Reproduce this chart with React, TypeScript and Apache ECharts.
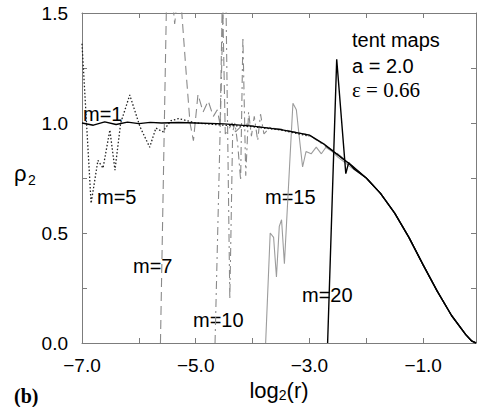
import React, { useEffect, useRef } from "react";
import * as echarts from "echarts";

// ---- data ----
const m1X = [-7.0, -6.8, -6.6, -6.4, -6.2, -6.0, -5.8, -5.6, -5.3, -5.0, -4.5, -4.0, -3.5, -3.0, -2.75, -2.5, -2.25, -2.0, -1.75, -1.5, -1.25, -1.0, -0.75, -0.5, -0.25, -0.15, -0.07];
const m1Y = [1.0, 0.99, 1.005, 0.993, 1.004, 0.997, 1.003, 1.0, 1.002, 1.0, 0.996, 0.986, 0.97, 0.945, 0.905, 0.855, 0.805, 0.75, 0.68, 0.59, 0.48, 0.355, 0.235, 0.125, 0.038, 0.01, 0.0];

const m5X = [-7.0, -6.84, -6.72, -6.63, -6.51, -6.42, -6.32, -6.16, -5.98, -5.81, -5.70, -5.58, -5.44, -5.3, -5.0, -4.5, -4.0, -3.5, -3.0];
const m5Y = [1.36, 0.635, 0.83, 0.795, 0.968, 0.786, 1.0, 1.127, 0.983, 0.89, 0.977, 0.96, 1.01, 1.02, 1.0, 0.99, 0.983, 0.968, 0.94];

const m7X = [-5.62, -5.50, -5.42, -5.37, -5.31, -5.25, -5.16, -5.10, -5.04, -4.96, -4.87, -4.78, -4.69, -4.62, -4.57, -4.53, -4.48, -4.42, -4.36, -4.30, -4.22, -4.10, -4.0, -3.5, -3.0, -2.5, -2.0, -1.75, -1.5, -1.25, -1.0, -0.75, -0.5, -0.25, -0.15, -0.07];
const m7Y = [0.0, 1.75, 1.6, 1.45, 1.6, 1.52, 1.2, 1.0, 0.92, 1.13, 1.05, 1.10, 1.03, 1.06, 0.99, 1.6, 0.95, 0.97, 1.0, 0.96, 0.98, 0.995, 0.985, 0.972, 0.945, 0.86, 0.75, 0.68, 0.59, 0.48, 0.355, 0.235, 0.125, 0.038, 0.01, 0.0];

const m10X = [-4.66, -4.50, -4.47, -4.40, -4.35, -4.31, -4.26, -4.21, -4.17, -4.12, -4.07, -4.02, -3.97, -3.91, -3.86, -3.80, -3.7, -3.5, -3.0, -2.5, -2.0, -1.75, -1.5, -1.25, -1.0, -0.75, -0.5, -0.25, -0.15, -0.07];
const m10Y = [0.0, 1.72, 1.6, 0.2, 0.96, 1.0, 0.9, 0.74, 1.39, 0.76, 1.05, 0.94, 1.03, 0.92, 1.04, 0.95, 0.98, 0.97, 0.945, 0.855, 0.75, 0.68, 0.59, 0.48, 0.355, 0.235, 0.125, 0.038, 0.01, 0.0];

const m15X = [-3.77, -3.69, -3.63, -3.58, -3.53, -3.49, -3.44, -3.35, -3.29, -3.23, -3.18, -3.12, -3.06, -2.97, -2.88, -2.79, -2.71, -2.6, -2.5, -2.25, -2.0, -1.75, -1.5, -1.25, -1.0, -0.75, -0.5, -0.25, -0.15, -0.07];
const m15Y = [0.0, 0.5, 0.48, 0.30, 0.53, 0.56, 0.36, 0.80, 1.09, 1.06, 0.94, 0.80, 0.87, 0.86, 0.89, 0.86, 0.89, 0.87, 0.845, 0.795, 0.75, 0.68, 0.59, 0.48, 0.355, 0.235, 0.125, 0.038, 0.01, 0.0];

const m20X = [-2.68, -2.52, -2.36, -2.31, -2.21, -2.0, -1.75, -1.5, -1.25, -1.0, -0.75, -0.5, -0.25, -0.15, -0.07];
const m20Y = [0.0, 1.29, 0.77, 0.82, 0.79, 0.75, 0.68, 0.59, 0.48, 0.355, 0.235, 0.125, 0.038, 0.01, 0.0];

const xLabelled = [-7, -5, -3, -1];
const yLabelled = [0, 0.5, 1.0, 1.5];

const FONT = "Liberation Sans";
const AXIS = "#7c7c7c";

function pairs(xs: number[], ys: number[]) {
  return xs.map((x, i) => [x, ys[i]]);
}

function txt(text: string, x: number, y: number, font: string) {
  return {
    type: "text",
    x,
    y,
    silent: true,
    style: {
      text,
      fill: "#000",
      font,
      align: "left",
      textAlign: "left",
      verticalAlign: "middle",
      textVerticalAlign: "middle",
    },
  };
}

export default function App() {
  const ref = useRef<HTMLDivElement>(null);
  useEffect(() => {
    if (!ref.current) return;
    const chart = echarts.init(ref.current, undefined, { renderer: "svg" });
    const xBase = {
      type: "value",
      min: -7,
      max: -0.07,
      interval: 1,
      splitLine: { show: false },
      axisLine: { show: true, onZero: false, lineStyle: { color: AXIS, width: 1 } },
      axisTick: { show: true, inside: true, length: 5, lineStyle: { color: AXIS } },
    };
    const yBase = {
      type: "value",
      min: 0,
      max: 1.5,
      interval: 0.25,
      splitLine: { show: false },
      axisLine: { show: true, onZero: false, lineStyle: { color: AXIS, width: 1 } },
      axisTick: { show: true, inside: true, length: 5, lineStyle: { color: AXIS } },
    };
    const line = (name: string, data: number[][], color: string, width: number, type: any, z: number) => ({
      type: "line",
      name,
      data,
      showSymbol: false,
      symbol: "none",
      z,
      lineStyle: { color, width, type },
      emphasis: { disabled: true },
    });
    chart.setOption({
      animation: false,
      backgroundColor: "#fff",
      textStyle: { fontFamily: FONT },
      grid: { left: 82, right: 3, top: 13, bottom: 64 },
      xAxis: [
        {
          ...xBase,
          position: "bottom",
          axisLabel: {
            color: "#000",
            fontSize: 19,
            fontFamily: FONT,
            margin: 13,
            formatter: (v: number) =>
              xLabelled.some((t) => Math.abs(t - v) < 1e-6) ? "\u2212" + Math.abs(v).toFixed(1) : "",
          },
          name: "log{s|2}(r)",
          nameLocation: "middle",
          nameGap: 31,
          nameTextStyle: {
            color: "#000",
            fontSize: 22,
            fontFamily: FONT,
            rich: { s: { fontSize: 14, fontFamily: FONT, color: "#000", verticalAlign: "bottom" } },
          },
        },
        { ...xBase, position: "top", axisLabel: { show: false } },
      ],
      yAxis: [
        {
          ...yBase,
          position: "left",
          axisLabel: {
            color: "#000",
            fontSize: 19,
            fontFamily: FONT,
            margin: 14,
            formatter: (v: number) =>
              yLabelled.some((t) => Math.abs(t - v) < 1e-6) ? v.toFixed(1) : "",
          },
        },
        { ...yBase, position: "right", axisLabel: { show: false } },
      ],
      series: [
        line("m=15", pairs(m15X, m15Y), "#9c9c9c", 1.1, "solid", 2),
        line("m=7", pairs(m7X, m7Y), "#8a8a8a", 1.1, [9, 5], 2),
        line("m=10", pairs(m10X, m10Y), "#8a8a8a", 1.1, [8, 4, 2, 4], 2),
        line("m=5", pairs(m5X, m5Y), "#222", 1.3, [1.5, 2], 3),
        line("m=20", pairs(m20X, m20Y), "#000", 1.4, "solid", 4),
        line("m=1", pairs(m1X, m1Y), "#000", 1.4, "solid", 5),
      ],
      graphic: [
        txt("m=1", 83, 114, `20px "${FONT}"`),
        txt("m=5", 97, 197, `20px "${FONT}"`),
        txt("m=7", 133, 266, `20px "${FONT}"`),
        txt("m=10", 193, 320, `20px "${FONT}"`),
        txt("m=15", 265, 197, `20px "${FONT}"`),
        txt("m=20", 302, 295, `20px "${FONT}"`),
        txt("tent maps", 352, 40, `20px "${FONT}"`),
        txt("a = 2.0", 352, 66, `20px "${FONT}"`),
        txt("\u03b5 = 0.66", 352, 90, `21px "Liberation Serif"`),
        txt("\u03c1", 14, 173, `22px "${FONT}"`),
        txt("2", 28, 180, `14px "${FONT}"`),
        txt("(b)", 14, 396, `bold 20px "Liberation Serif"`),
      ],
    });
    return () => chart.dispose();
  }, []);
  return (
    <div
      ref={ref}
      style={{ position: "fixed", left: 0, top: 0, width: 479, height: 407, background: "#fff" }}
    />
  );
}
